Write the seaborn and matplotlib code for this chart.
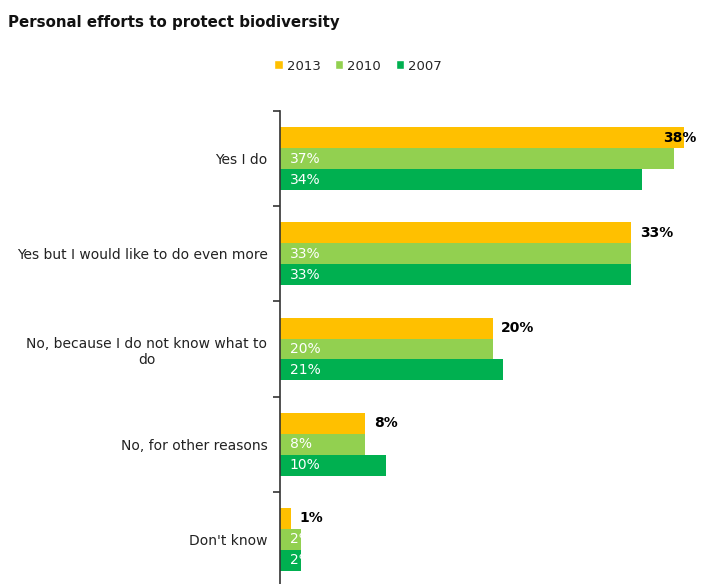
import numpy as np
import pandas as pd
import seaborn as sns
import matplotlib.pyplot as plt
from matplotlib.patches import Patch

categories = [
    "Yes I do",
    "Yes but I would like to do even more",
    "No, because I do not know what to\ndo",
    "No, for other reasons",
    "Don't know",
]
years = ["2013", "2010", "2007"]
values_2013 = [38, 33, 20, 8, 1]
values_2010 = [37, 33, 20, 8, 2]
values_2007 = [34, 33, 21, 10, 2]
colors = ["#FFC000", "#92D050", "#00B050"]

rows = []
for year, vals in zip(years, [values_2013, values_2010, values_2007]):
    for cat, v in zip(categories, vals):
        rows.append({"Category": cat, "Year": year, "Value": v})
df = pd.DataFrame(rows)

sns.set_theme(style="white")
plt.rcParams["font.family"] = ["DejaVu Sans"]

fig = plt.figure(figsize=(7.01, 5.84), dpi=100)
ax = fig.add_axes([280 / 701, -3 / 584, 415 / 701, 476 / 584])

sns.barplot(
    data=df,
    y="Category",
    x="Value",
    hue="Year",
    order=categories,
    hue_order=years,
    palette=colors,
    orient="h",
    width=0.66,
    saturation=1,
    linewidth=0,
    legend=False,
    ax=ax,
)

ax.set_xlim(0, 39)
ax.set_ylim(len(categories) - 0.5, -0.5)

# value labels
for container, year in zip(ax.containers, years):
    for bar in container:
        v = bar.get_width()
        yc = bar.get_y() + bar.get_height() / 2
        if year == "2013":
            ax.text(min(v + 0.8, 36.0), yc, f"{v:.0f}%", ha="left", va="center",
                    fontsize=10, fontweight="bold", color="black", clip_on=False)
        else:
            ax.text(0.9, yc, f"{v:.0f}%", ha="left", va="center",
                    fontsize=10, color="white")

# axes styling
for side in ["top", "right", "bottom"]:
    ax.spines[side].set_visible(False)
ax.spines["left"].set_color("#333333")
ax.spines["left"].set_linewidth(1.2)
ax.set_xticks([])
ax.set_xlabel("")
ax.set_ylabel("")
ax.tick_params(axis="y", which="major", left=False, length=0, pad=9,
               labelsize=10, labelcolor="#222222")
ax.set_yticks(np.arange(-0.5, len(categories), 1.0), minor=True)
ax.tick_params(axis="y", which="minor", left=True, length=5, width=1.2,
               color="#333333", direction="out")
for lbl in ax.get_yticklabels():
    lbl.set_multialignment("center")

fig.text(0.012, 0.962, "Personal efforts to protect biodiversity", fontsize=10.8,
         fontweight="bold", color="#111111", ha="left", va="center")

handles = [Patch(facecolor=c, label=y) for c, y in zip(colors, years)]
fig.legend(handles=handles, loc="center", bbox_to_anchor=(358 / 701, 1 - 66 / 584),
           ncol=3, frameon=False, fontsize=9.5, handlelength=0.65, handleheight=0.65,
           handletextpad=0.3, columnspacing=1.1)

fig.savefig("out.png", dpi=100)
